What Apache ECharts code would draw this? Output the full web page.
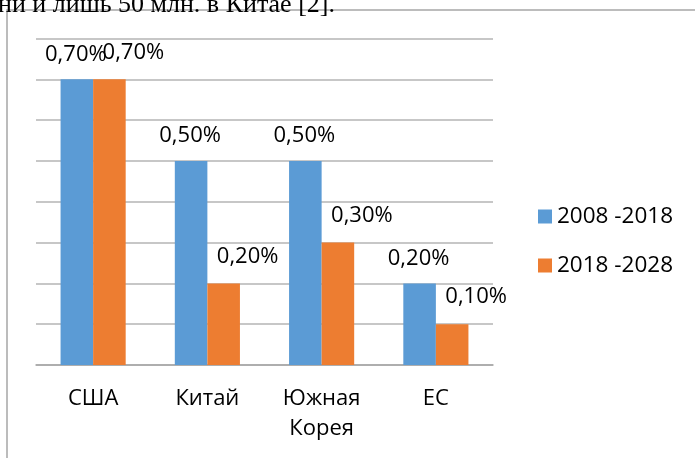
<!DOCTYPE html>
<html>
<head>
<meta charset="utf-8">
<title>bar</title>
<script src="https://cdn.jsdelivr.net/npm/echarts@6/dist/echarts.min.js"></script>
<style>
  html, body { margin: 0; padding: 0; background: #fff; }
  #chart { width: 695px; height: 458px; }
</style>
</head>
<body>
<div id="chart"></div>
<script>
var categories = ['США', 'Китай', 'Южная Корея', 'ЕС'];
var seriesNames = ['2008 -2018', '2018 -2028'];
var values2008 = [0.70, 0.50, 0.50, 0.20];
var values2018 = [0.70, 0.20, 0.30, 0.10];

var font = '"Open Sans", sans-serif';
function pct(p) {
  return p.value.toFixed(2).replace('.', ',') + '%';
}

var chart = echarts.init(document.getElementById('chart'));
chart.setOption({
  animation: false,
  graphic: [
    // рамка вокруг диаграммы
    { type: 'rect', shape: { x: 7, y: 10, width: 720, height: 480 },
      style: { fill: 'none', stroke: '#a6a6a6', lineWidth: 1.5 } },
    // обрезанная строка текста над диаграммой
    { type: 'text', left: -2, top: -8,
      style: { text: 'ни и лишь 50 млн. в Китае [2].', fontFamily: '"Liberation Serif", serif',
               fontSize: 26, fill: '#000' } }
  ],
  grid: { left: 36, right: 202, top: 38.5, bottom: 93 },
  legend: {
    orient: 'vertical',
    left: 533,
    top: 200,
    itemWidth: 14,
    itemHeight: 14,
    itemGap: 26,
    icon: 'rect',
    textStyle: { fontFamily: font, fontSize: 22.5, color: '#000', lineHeight: 20 },
    data: seriesNames
  },
  xAxis: {
    type: 'category',
    data: categories,
    axisLine: { lineStyle: { color: '#a6a6a6', width: 1.5 } },
    axisTick: { length: 8, lineStyle: { color: '#a6a6a6', width: 1.5 } },
    axisLabel: {
      fontFamily: font, fontSize: 22, color: '#000', margin: 19, lineHeight: 30,
      formatter: function (v) { return v.replace(' ', '\n'); }
    }
  },
  yAxis: {
    type: 'value',
    min: 0,
    max: 0.8,
    interval: 0.1,
    axisLabel: { show: false },
    axisLine: { show: false },
    axisTick: { show: false },
    splitLine: { lineStyle: { color: '#b5b5b5', width: 1.5 } }
  },
  series: [
    {
      name: seriesNames[0],
      type: 'bar',
      data: values2008,
      barGap: '0%',
      barCategoryGap: '43%',
      itemStyle: { color: '#5b9bd5' },
      label: { show: true, position: 'top', distance: 14, offset: [-1, 0],
               formatter: pct, fontFamily: font, fontSize: 22, color: '#000' }
    },
    {
      name: seriesNames[1],
      type: 'bar',
      data: values2018,
      itemStyle: { color: '#ed7d31' },
      label: { show: true, position: 'top', distance: 16, offset: [24, 0],
               formatter: pct, fontFamily: font, fontSize: 22, color: '#000' }
    }
  ]
});
</script>
</body>
</html>
